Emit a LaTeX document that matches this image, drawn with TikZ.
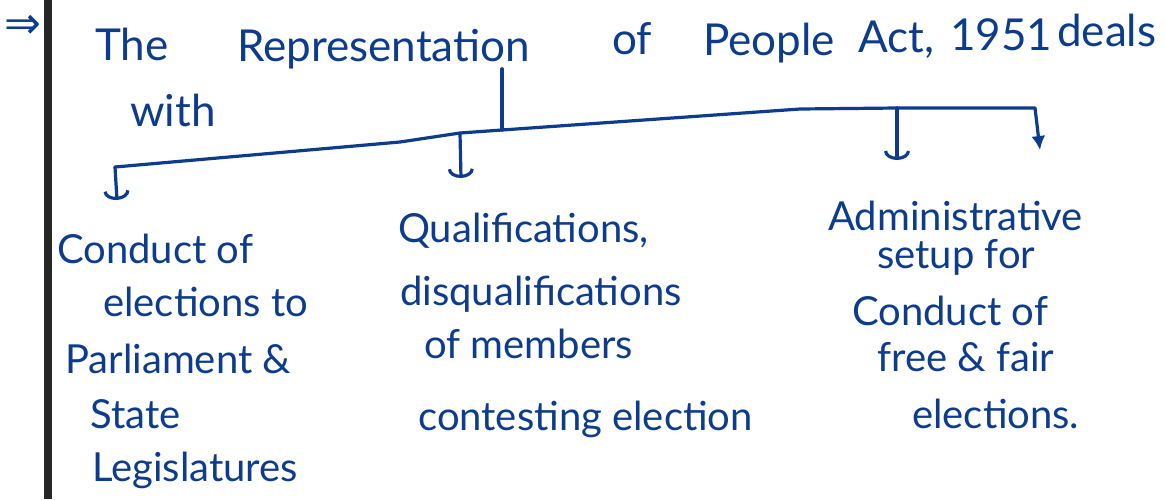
\documentclass[tikz,border=0pt]{standalone}
\usepackage{fontspec}
\usetikzlibrary{arrows.meta}
\newfontfamily\handfont{Lato}
\newfontfamily\symfont{DejaVu Sans}
\definecolor{ink}{RGB}{14,60,140}
\definecolor{margin}{RGB}{38,38,38}
\begin{document}
\begin{tikzpicture}[x=1pt,y=-1pt,
  headword/.style={anchor=base west,inner sep=0pt,text=ink,font=\handfont\fontsize{44}{50}\selectfont},
  itemline/.style={anchor=base west,inner sep=0pt,text=ink,font=\handfont\fontsize{40}{46}\selectfont},
  wire/.style={draw=ink,line width=3.2pt,line cap=round,line join=round},
  drop/.style={wire,-{Arc Barb[length=9pt,width=26pt]}},
  droptip/.style={wire,-{Latex[length=14pt,width=14pt]}}]
\useasboundingbox (0,0) rectangle (1165,499);
\fill[white] (0,0) rectangle (1165,499);
% margin rule
\fill[margin] (44,0) rectangle (52,499);
\node[anchor=center,inner sep=0pt,text=ink,font=\symfont\fontsize{44}{44}\selectfont] (mark) at (23,27) {⇒};
% heading
\node[headword] (w1) at (95,60) {The};
\node[headword] (rep) at (237,61) {Representation};
\node[headword] (w3) at (612,54) {of};
\node[headword] (w4) at (703,55) {People};
\node[headword] (w5) at (858,52) {Act,};
\node[headword] (w6) at (950,50) {1951};
\node[headword] (w7) at (1057,46) {deals};
\node[headword] (w8) at (130,126) {with};
% junction points on the branching bar
\coordinate (j1) at (115,167);
\coordinate (j2) at (460,133);
\coordinate (jm) at (502,130);
\coordinate (j3) at (897,108);
\coordinate (j4) at (1035,108);
% free ends of the drops
\coordinate (e1) at (117,200);
\coordinate (e2) at (461,178);
\coordinate (e3) at (897,160);
\coordinate (e4) at (1040,150);
% branch 1
\node[itemline] (a1) at (57,263) {Conduct of};
\node[itemline] (a2) at (103,316) {elections to};
\node[itemline] (a3) at (65,373) {Parliament \&};
\node[itemline] (a4) at (90,428) {State};
\node[itemline] (a5) at (92,481) {Legislatures};
% branch 2
\node[itemline] (b1) at (398,242) {Qualifications,};
\node[itemline] (b2) at (400,305) {disqualifications};
\node[itemline] (b3) at (424,358) {of members};
\node[itemline] (b4) at (418,430) {contesting election};
% branch 3
\node[itemline] (c1) at (828,230) {Administrative};
\node[itemline] (c2) at (877,268) {setup for};
\node[itemline] (c3) at (852,325) {Conduct of};
\node[itemline] (c4) at (877,371) {free \& fair};
\node[itemline] (c5) at (912,428) {elections.};
% stem and bar
\draw[wire] (jm |- rep.south) -- (jm);
\draw[wire] (j1) -- (400,142) -- (j2) -- (jm) -- (800,109) -- (j3) -- (j4);
% drops
\draw[drop] (j1) -- (e1);
\draw[drop] (j2) -- (e2);
\draw[drop] (j3) -- (e3);
\draw[droptip] (j4) -- (e4);
\end{tikzpicture}
\end{document}
